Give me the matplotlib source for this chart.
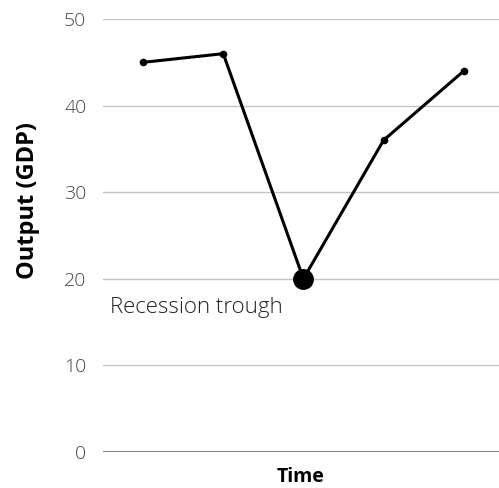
import matplotlib
matplotlib.use('Agg')
import matplotlib.pyplot as plt

plt.rcParams['font.family'] = ['Open Sans', 'DejaVu Sans']

periods = [0, 1, 2, 3, 4]
output = [45, 46, 20, 36, 44]
yticks = [0, 10, 20, 30, 40, 50]
trough_idx = 2

fig = plt.figure(figsize=(4.99, 4.88), dpi=100)
ax = fig.add_axes([0.2064, 0.0738, 0.7936, 0.8872])

for t in yticks[1:]:
    ax.axhline(t, color='#c4c4c4', lw=1.0, zorder=1)
ax.axhline(0, color='#6b6b6b', lw=1.2, zorder=1)

ax.plot(periods, output, color='black', lw=2.2, marker='o', ms=4.5, zorder=3)
ax.plot(periods[trough_idx], output[trough_idx], 'o', color='black', ms=14, zorder=4)
ax.text(-0.41, 16.0, 'Recession trough', fontsize=16, fontweight='light',
        color='#222222', va='baseline', ha='left')

ax.set_xlim(-0.5, 4.44)
ax.set_ylim(0, 50)
ax.set_yticks(yticks)
ax.set_yticklabels([str(v) for v in yticks], fontsize=14, fontweight='light', color='#444444')
ax.set_xticks([])
ax.tick_params(axis='y', length=0, pad=12)
for s in ax.spines.values():
    s.set_visible(False)

ax.set_ylabel('Output (GDP)', fontsize=17, fontweight='bold')
ax.yaxis.set_label_coords(-0.16, 0.58)
ax.set_xlabel('Time', fontsize=14, fontweight='bold', labelpad=11)

fig.savefig('out.png', dpi=100)
